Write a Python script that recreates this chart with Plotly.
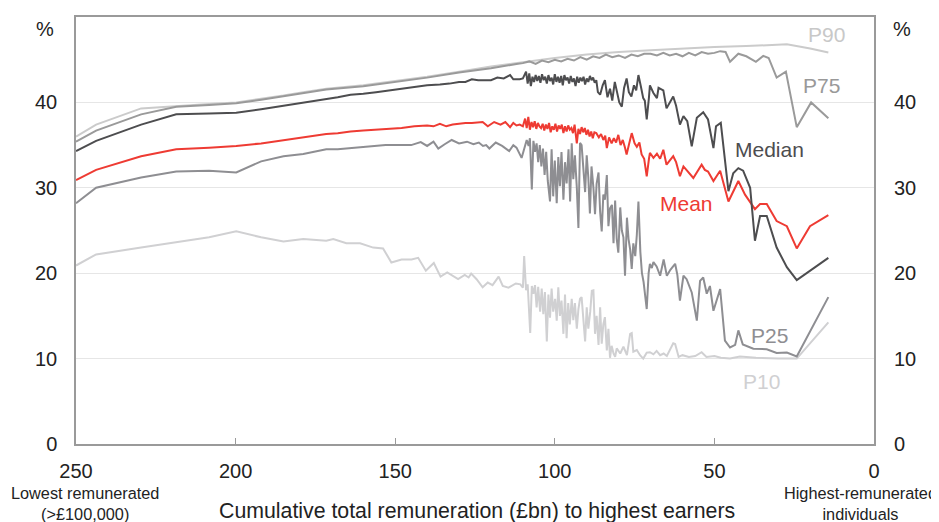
import plotly.graph_objects as go

# ---------------- data ----------------
p90_x = [250, 243.7, 229.6, 218.6, 208.3, 199.8, 192, 185, 178.8, 171.6, 160, 150, 140, 130, 120, 110, 100, 90, 80, 70, 60, 50, 40, 30, 27.3, 20, 14.3]
p90_y = [36.0, 37.4, 39.3, 39.6, 39.8, 40.0, 40.4, 40.8, 41.2, 41.6, 42.0, 42.5, 43.0, 43.6, 44.2, 44.7, 45.2, 45.6, 45.9, 46.1, 46.3, 46.5, 46.6, 46.75, 46.8, 46.3, 45.85]

p75_x = [250, 243.7, 229.6, 218.6, 208.3, 199.8, 192, 185, 178.8, 171.6, 160, 150, 140, 130, 120, 112,
         110, 108, 106, 104, 102, 100, 98, 96, 94, 92, 90, 88, 86, 84, 82, 80, 78, 76, 74, 72, 70,
         68, 66, 64, 62, 60, 58, 56, 54, 52, 50, 48.2, 46.5, 45.1, 42.5, 40, 37.0, 34.7, 33, 30.5, 27.6, 24.2, 19.7, 14.3]
p75_y = [35.4, 36.7, 38.6, 39.5, 39.7, 39.9, 40.3, 40.7, 41.1, 41.5, 41.9, 42.4, 42.9, 43.5, 44.0, 44.5,
         44.6, 44.8, 44.5, 44.9, 44.7, 45.0, 44.8, 45.1, 44.9, 45.3, 45.0, 45.4, 45.2, 45.6, 45.3, 45.5, 45.2, 45.6, 45.4, 45.7, 45.7,
         45.5, 45.8, 45.5, 45.7, 45.4, 45.8, 45.5, 45.9, 45.7, 45.8, 46.0, 45.9, 44.75, 45.7, 45.4, 44.75, 45.45, 45.2, 42.9, 43.6, 37.1, 40.0, 38.15]

median_x = [250, 243.7, 229.6, 218.6, 208.3, 199.8, 192, 185, 178.8, 171.6,
            168, 164, 160, 156, 152, 148, 144, 140, 136, 133, 130, 128, 126, 124, 122, 120, 118, 116, 114, 113, 111, 110, 109,
            108.5, 108, 107.5, 107, 106.5, 106, 105.5, 105, 104.5, 104, 103.5, 103, 102.5, 102, 101.5, 101, 100.5, 100,
            99.5, 99, 98.5, 98, 97.5, 97, 96.5, 96, 95.5, 95, 94.5, 94, 93.5, 93, 92.5, 92, 91.5, 91, 90.5, 90,
            89.5, 89, 88.5, 88, 87.5, 87, 86.5, 85.8, 85, 84.3, 83.5, 82.7, 82, 81.2, 80.5, 79.8, 79, 78.3, 77.5,
            76.8, 76, 75.2, 74.5, 73.8, 73, 72.3, 71.8, 71.2, 70.5, 70.2, 69.1, 68, 67.5, 66.0, 65.0, 64, 62.9, 62,
            60.8, 59.7, 58.5, 57.1, 55.5, 53.5, 52, 50.3, 49.5, 48, 47, 45.6, 44.1, 42.5, 41, 38.8, 37.3, 35.7, 33.6,
            30.5, 27.3, 24.2, 14.3]
median_y = [34.3, 35.5, 37.4, 38.6, 38.7, 38.8, 39.2, 39.6, 40.0, 40.4,
            40.6, 40.9, 41.0, 41.2, 41.4, 41.6, 41.8, 42.0, 42.1, 42.2, 42.4, 42.4, 42.7, 42.6, 42.6, 42.6, 42.9, 42.8, 43.2, 42.7, 42.7, 42.8, 43.6,
            42.2, 43.4, 41.9, 43.0, 42.4, 43.2, 42.5, 43.1, 42.3, 43.3, 42.6, 43.0, 42.2, 43.2, 42.5, 42.9, 42.1, 43.3,
            42.4, 43.0, 42.3, 43.1, 42.0, 43.2, 42.6, 42.9, 42.2, 43.1, 42.4, 42.8, 41.9, 43.0, 42.3, 42.9, 42.5, 43.0, 42.1, 42.8,
            42.4, 43.1, 42.6, 42.9, 42.3, 42.6, 41.2, 40.9, 42.0, 42.6, 40.6, 41.6, 40.2, 42.4, 41.3, 40.0, 39.5, 41.7, 42.8,
            41.2, 40.7, 42.0, 41.4, 43.2, 41.8, 40.5, 40.2, 38.0, 40.6, 42.0, 41.1, 40.5, 41.7, 41.4, 39.3, 40.0, 40.7, 39.6,
            37.4, 38.4, 37.8, 34.85, 38.2, 38.85, 38.0, 34.65, 37.2, 37.6, 34.0, 29.6, 31.7, 32.3, 32.0, 30.0, 23.8, 26.7, 26.7,
            23.0, 20.7, 19.2, 21.8]

mean_x = [250, 243.7, 229.6, 218.6, 208.3, 199.8, 192, 185, 178.8, 171.6,
          168, 164, 160, 156, 152, 148, 144, 140, 138, 136, 134, 132, 130, 128, 126, 124, 122.6, 121, 119, 117, 115.5, 114, 113, 112, 111, 110, 109.3,
          108.8, 108.3, 107.8, 107.3, 106.8, 106.3, 105.8, 105.3, 104.8, 104.3, 103.8, 103.3, 102.8, 102.3, 101.8, 101.3, 100.8, 100.3,
          99.8, 99.3, 98.8, 98.3, 97.8, 97.3, 96.8, 96.3, 95.8, 95.3, 94.8, 94.3, 93.8, 93.1, 92.6, 92.1, 91.6, 91.1, 90.6, 90.1,
          89.6, 89.1, 88.6, 88.1, 87.6, 87, 86.2, 85.5, 84.8, 84.2, 83.7, 83, 82.2, 81.5, 80.8, 80.1, 79.4, 78.7, 78, 77.5,
          76.8, 75.9, 75, 74.3, 73.5, 72.8, 72, 71.2, 70.5, 70.2, 69.1, 68, 67, 66, 65, 64, 62.9, 62, 60.8, 59.7, 58.5, 56.6,
          54, 53, 52, 50.3, 48.2, 45.6, 42.5, 40.4, 37.3, 35.7, 33.6, 30.5, 27.3, 24.2, 20.05, 14.3]
mean_y = [30.9, 32.1, 33.7, 34.5, 34.7, 34.9, 35.2, 35.6, 35.9, 36.3,
          36.4, 36.6, 36.7, 36.8, 36.9, 37.0, 37.2, 37.3, 37.2, 37.5, 37.2, 37.4, 37.5, 37.6, 37.6, 37.7, 37.7, 37.2, 37.7, 37.4, 37.7, 37.1, 37.6, 37.3, 37.4, 37.2, 38.1,
          37.0, 38.3, 36.8, 37.7, 37.1, 37.8, 36.9, 37.6, 37.2, 37.0, 37.5, 36.7, 37.4, 36.9, 37.6, 36.5, 37.2, 36.8,
          37.5, 36.6, 37.3, 36.9, 37.4, 36.4, 37.2, 36.6, 37.3, 36.8, 37.0, 36.4, 37.4, 35.2, 36.9, 36.3, 37.1, 36.5, 37.0, 36.2,
          36.8, 36.0, 36.6, 35.8, 36.5, 36.4, 35.9, 36.3, 35.6, 36.1, 34.65, 35.9, 35.2, 35.8, 35.3, 36.2, 35.0, 35.6, 34.7, 33.9,
          35.0, 36.4, 35.2, 34.8, 35.3, 33.9, 33.4, 31.35, 33.4, 34.1, 33.5, 34.0, 33.4, 34.45, 32.7, 33.2, 33.7, 33.0, 31.35, 32.5, 32.0, 31.15,
          32.7, 32.1, 31.9, 30.8, 32.0, 28.4, 30.8, 29.2, 27.5, 28.1, 28.1, 26.1, 25.5, 22.9, 25.5, 26.8]

p25_x = [250, 243.7, 229.6, 218.6, 208.3, 199.8, 192, 185, 178.8, 171.6,
         168, 163, 158, 153, 149, 145, 142, 140, 138, 136.5, 134.5, 132.3, 130, 127.5, 125.5, 123.8, 122.5, 121.5, 120.5, 118.5, 116.5, 114.3, 113, 112, 110.4,
         108.8, 108.2, 107.8, 107.2, 106.7, 106.2, 105.7, 105.2, 104.7, 104.2, 103.7, 103.2, 102.7, 102.2, 101.5, 101.0, 100.5, 100,
         99.4, 98.9, 98.4, 97.9, 97.3, 96.8, 96.3, 95.7, 95.2, 94.7, 94.2, 93.7, 93.1, 92.6, 92.1, 91.6, 91.1, 90.5, 90,
         89.5, 89, 88.5, 87.9, 87.4, 86.9, 86.3, 85.8, 85.3, 84.8, 84.3, 83.7, 83.2, 82.7, 82.1, 81.6, 81.1, 80.6, 80.1,
         79.5, 79.0, 78.5, 78.0, 77.4, 76.9, 76.4, 75.9, 75.4, 74.8, 74.3, 73.8, 73.2, 72.7, 72.2, 71.7, 71.2, 70.6, 70.2,
         69.6, 69.1, 68.1, 67.0, 65.9, 64.9, 63.8, 62.3, 61.6, 60.8, 59.7, 58.7, 57.1, 55.5, 54.5, 53.5, 52.4, 51.4, 50.3,
         48.2, 46.7, 45.1, 43.5, 42.5, 41.1, 37.8, 33.6, 30.5, 27.3, 24.2, 14.3]
p25_y = [28.2, 30.0, 31.2, 31.9, 32.0, 31.8, 33.1, 33.7, 33.95, 34.5,
         34.5, 34.65, 34.8, 35.0, 35.0, 35.0, 35.35, 34.9, 35.4, 34.6, 35.1, 35.6, 35.2, 35.4, 35.1, 35.3, 34.9, 35.0, 34.6, 35.3, 34.9, 34.3, 35.0, 34.7, 33.5,
         35.6, 34.9, 35.8, 29.8, 35.5, 34.2, 35.2, 33.0, 35.0, 32.5, 34.6, 31.5, 34.2, 30.8, 28.4, 34.5, 29.0, 33.2,
         28.2, 33.6, 30.2, 34.2, 28.6, 33.0, 30.5, 34.5, 28.4, 35.2, 31.0, 33.8, 30.0, 25.3, 35.25, 35.0, 32.0, 29.5, 33.8,
         31.2, 27.0, 32.5, 30.0, 26.9, 30.5, 31.8, 27.2, 24.9, 29.2, 28.6, 31.5, 25.5, 27.6, 28.0, 23.5, 28.5, 24.0, 22.4,
         27.7, 25.0, 24.2, 19.7, 26.5, 24.0, 22.8, 20.5, 23.5, 22.0, 24.5, 28.4, 22.5, 20.0, 19.0, 17.5, 15.8, 20.0, 21.1,
         20.6, 21.3, 20.8, 19.7, 21.6, 19.7, 20.4, 21.1, 19.8, 16.8, 19.7, 19.3, 17.75, 14.45, 19.1, 19.5, 17.6, 18.5, 15.6,
         18.15, 12.1, 11.3, 11.6, 13.3, 11.65, 11.15, 11.1, 10.65, 10.7, 10.25, 17.2]

p10_x = [250, 243.7, 229.6, 218.6, 208.3, 199.8, 192, 185, 178.8, 171.6,
         169.4, 165.3, 161, 156.9, 153.8, 151.2, 148, 144.9, 142.8, 140.4, 137.9, 135.8, 133.7, 130.3, 128.2, 127, 126.2, 124.5, 122.6, 121, 119.5, 117.6, 116.3, 114.5, 112.2, 110.8, 110,
         109.6, 109, 108.5, 107.7, 107.2, 106.7, 106.2, 105.7, 105.2, 104.6, 104.1, 103.6, 103.1, 102.5, 102, 101.5, 101, 100.5,
         99.9, 99.4, 98.9, 98.4, 97.9, 97.3, 96.8, 96.3, 95.8, 95.3, 94.7, 94.2, 93.7, 93.1, 92.6, 92.1, 91.6, 91.1, 90.5, 90.0,
         89.5, 88.9, 88.4, 87.9, 87.4, 86.9, 86.3, 85.8, 85.3, 84.8, 84.3, 83.7, 83.2, 82.7, 82.2, 81.6, 81.1, 80.6,
         79.5, 78.5, 77.4, 76.4, 75.9, 75.4, 74.3, 73.3, 72.3, 71.2, 70.2, 69.1, 68.1, 67, 65.9, 64.9, 62.9, 62.3, 61.2,
         60, 58, 56, 54.0, 52.5, 50, 48, 45.1, 42, 37, 30, 24.2, 14.3]
p10_y = [20.9, 22.2, 23.0, 23.6, 24.2, 24.9, 24.2, 23.7, 24.0, 23.8,
         24.0, 23.5, 23.5, 23.0, 22.9, 21.25, 21.6, 21.6, 21.8, 20.3, 21.2, 19.6, 20.1, 19.3, 19.8, 19.5, 19.95, 19.3, 18.35, 18.9, 18.6, 19.6, 18.5, 18.3, 18.8, 18.7, 18.3,
         22.0, 18.0, 18.7, 13.0, 18.5, 17.6, 18.6, 16.0, 18.4, 15.5, 18.2, 15.2, 17.8, 12.0, 17.5, 14.8, 18.2, 15.5,
         17.0, 14.45, 18.35, 15.0, 16.8, 12.9, 17.5, 12.4, 16.5, 14.0, 17.0, 14.5, 16.5, 13.5, 15.8, 17.0, 17.2, 14.2, 12.0, 16.0,
         13.5, 15.5, 17.95, 18.0, 12.9, 15.0, 11.6, 16.0, 11.75, 14.0, 14.85, 10.95, 13.5, 10.1, 11.5, 10.6, 10.2, 11.2,
         10.6, 11.4, 10.4, 12.9, 13.0, 10.8, 11.0, 10.4, 10.0, 10.7, 10.75, 10.5, 10.9, 10.4, 10.6, 10.3, 11.8, 11.7, 10.2,
         10.4, 10.2, 10.3, 10.75, 10.2, 10.3, 10.1, 10.0, 10.25, 10.1, 10.0, 10.0, 14.25]

y_ticks = [0, 10, 20, 30, 40]
x_ticks = [250, 200, 150, 100, 50, 0]

series = [
    ("P10", p10_x, p10_y, "#d0d0d2"),
    ("P90", p90_x, p90_y, "#cbcbcb"),
    ("P25", p25_x, p25_y, "#8e8e92"),
    ("P75", p75_x, p75_y, "#9a9a9a"),
    ("Mean", mean_x, mean_y, "#ee3b33"),
    ("Median", median_x, median_y, "#4d4d4f"),
]

# label name, x, y, colour
labels = [
    ("P90", 15.0, 47.9, "#c8c8c8"),
    ("P75", 16.4, 42.0, "#999999"),
    ("Median", 32.6, 34.5, "#4d4d4f"),
    ("Mean", 58.6, 28.2, "#ee3b33"),
    ("P25", 32.6, 12.7, "#8e8e92"),
    ("P10", 35.4, 7.3, "#d0d0d2"),
]

FONT = "Arial, Liberation Sans, sans-serif"

fig = go.Figure()
for name, xs, ys, col in series:
    fig.add_trace(go.Scatter(x=xs, y=ys, mode="lines", name=name,
                             line=dict(color=col, width=2), showlegend=False))
fig.add_trace(go.Scatter(x=[None], y=[None], yaxis="y2", showlegend=False, hoverinfo="skip"))

ann = []
for name, lx, ly, col in labels:
    ann.append(dict(x=lx, y=ly, xref="x", yref="y", text=name, showarrow=False,
                    font=dict(size=21, color=col, family=FONT)))

ann += [
    dict(x=-0.039, y=0.972, xref="paper", yref="paper", text="%", showarrow=False,
         xanchor="center", yanchor="middle",
         font=dict(size=20, color="#222", family=FONT)),
    dict(x=1.035, y=0.972, xref="paper", yref="paper", text="%", showarrow=False,
         xanchor="center", yanchor="middle",
         font=dict(size=20, color="#222", family=FONT)),
    dict(x=0.0113, y=-0.139, xref="paper", yref="paper", text="Lowest remunerated<br>(>£100,000)",
         showarrow=False, xanchor="center", yanchor="middle", align="center",
         font=dict(size=16.3, color="#222", family=FONT)),
    dict(x=0.9837, y=-0.139, xref="paper", yref="paper", text="Highest-remunerated<br>individuals",
         showarrow=False, xanchor="center", yanchor="middle", align="center",
         font=dict(size=16.3, color="#222", family=FONT)),
    dict(x=0.502, y=-0.158, xref="paper", yref="paper",
         text="Cumulative total remuneration (£bn) to highest earners",
         showarrow=False, xanchor="center", yanchor="middle",
         font=dict(size=21.3, color="#222", family=FONT)),
]

# the page body adds an 8px offset, so the figure is sized to sit in the window
fig.update_layout(
    width=931, height=514,
    margin=dict(l=68, r=65, t=7, b=78),
    paper_bgcolor="white", plot_bgcolor="white",
    font=dict(family=FONT, size=20, color="#222"),
    xaxis=dict(range=[250, 0], tickvals=x_ticks, ticks="inside", ticklen=6,
               tickcolor="#9a9a9a", showgrid=False, zeroline=False,
               showline=True, linecolor="#9a9a9a", linewidth=1.5, mirror=True,
               tickfont=dict(size=20, color="#222"), ticklabelstandoff=8),
    yaxis=dict(range=[0, 50], tickvals=y_ticks, showgrid=True, gridcolor="#e6e6e6",
               gridwidth=1, zeroline=False, showline=True, linecolor="#9a9a9a",
               linewidth=1.5, mirror=True, ticks="", tickfont=dict(size=20, color="#222"),
               ticklabelstandoff=13),
    yaxis2=dict(range=[0, 50], tickvals=y_ticks, overlaying="y", side="right",
                showgrid=False, zeroline=False, showline=False, ticks="",
                tickfont=dict(size=20, color="#222"), ticklabelstandoff=19),
    annotations=ann,
)

fig.write_html("out.html")
